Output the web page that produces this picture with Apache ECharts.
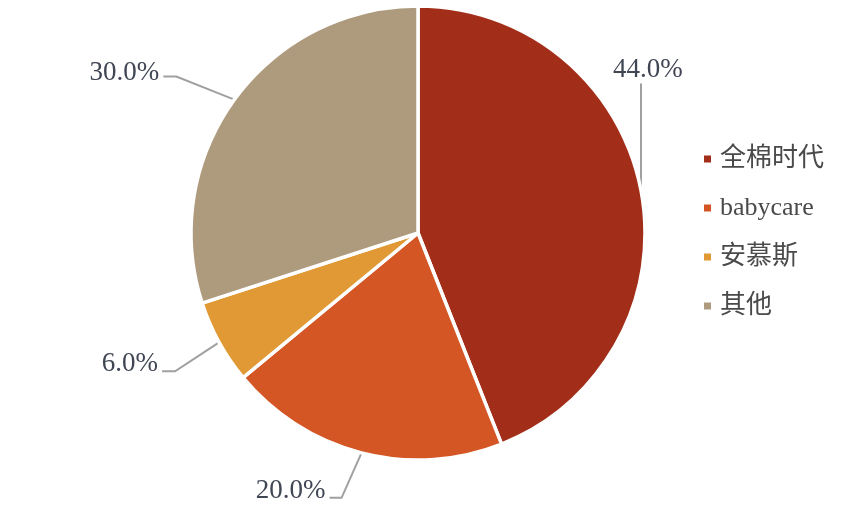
<!DOCTYPE html>
<html>
<head>
<meta charset="utf-8">
<script src="https://cdn.jsdelivr.net/npm/echarts@6/dist/echarts.min.js"></script>
<style>
html,body{margin:0;padding:0;background:#fff;}
#chart{width:865px;height:507px;}
</style>
</head>
<body>
<div id="chart"></div>
<script>
// Data
var categories = ['全棉时代', 'babycare', '安慕斯', '其他'];
var shares = [44.0, 20.0, 6.0, 30.0];
var colors = ['#A22E19', '#D45624', '#E09934', '#AE9B7E'];

// Label guide offsets relative to slice edge point (style/layout only)
var guide = [
  { knee: [0, -107], end: null, label: [7, -121], align: 'center' },
  { knee: [-20, 45], end: [-32, 45], label: [-36, 38], align: 'right' },
  { knee: [-44, 29], end: [-57, 29], label: [-61, 22], align: 'right' },
  { knee: [-58, -23], end: [-71, -23], label: [-75, -27], align: 'right' }
];

var serif = '"Liberation Serif", "Times New Roman", "Noto Sans CJK SC", serif';

var chart = echarts.init(document.getElementById('chart'), null, { renderer: 'canvas' });
var option = {
  animation: false,
  backgroundColor: '#ffffff',
  color: colors,
  legend: {
    orient: 'vertical',
    left: 697,
    top: 141,
    icon: 'rect',
    itemWidth: 9,
    itemHeight: 9,
    itemGap: 23,
    data: categories,
    textStyle: {
      fontFamily: serif,
      fontSize: 26,
      lineHeight: 26,
      color: '#4a4a4a',
      padding: [0, 0, 0, 3]
    }
  },
  series: [{
    type: 'pie',
    center: [418, 233],
    radius: 227,
    startAngle: 90,
    clockwise: true,
    avoidLabelOverlap: false,
    itemStyle: { borderColor: '#ffffff', borderWidth: 3.5 },
    label: {
      show: true,
      position: 'outside',
      formatter: function (p) { return p.value.toFixed(1) + '%'; },
      fontFamily: serif,
      fontSize: 27,
      color: '#404654'
    },
    labelLine: {
      show: true,
      length: 20,
      length2: 10,
      lineStyle: { color: '#A0A0A0', width: 2 }
    },
    labelLayout: function (params) {
      var g = guide[params.dataIndex];
      var pts = params.labelLinePoints;
      if (!pts) return {};
      var e = pts[0];
      var line = [[e[0], e[1]], [e[0] + g.knee[0], e[1] + g.knee[1]]];
      if (g.end) line.push([e[0] + g.end[0], e[1] + g.end[1]]);
      return {
        x: e[0] + g.label[0],
        y: e[1] + g.label[1],
        align: g.align,
        verticalAlign: 'middle',
        labelLinePoints: line
      };
    },
    data: categories.map(function (c, i) { return { name: c, value: shares[i] }; })
  }]
};
chart.setOption(option);
</script>
</body>
</html>
